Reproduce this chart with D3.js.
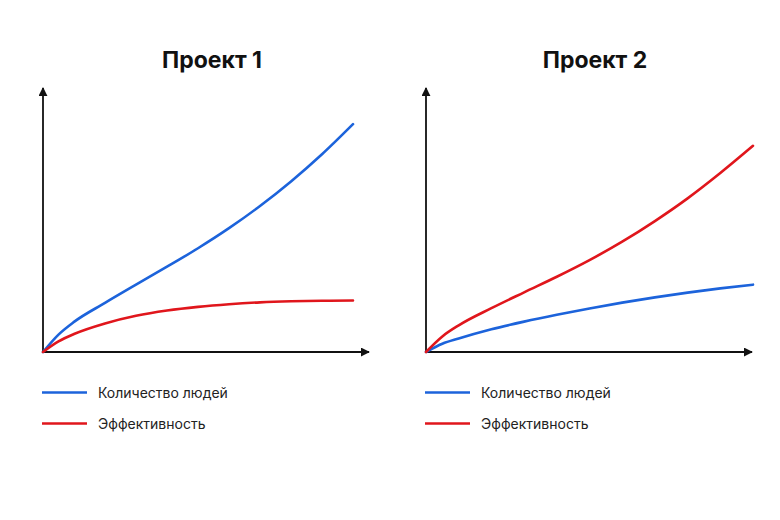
<!DOCTYPE html>
<html>
<head>
<meta charset="utf-8">
<script src="https://cdn.jsdelivr.net/npm/d3@7"></script>
<style>
  body { margin: 0; background: #fff; }
  svg { display: block; font-family: Inter, "Noto Sans", sans-serif; }
</style>
</head>
<body>
<svg id="chart" width="780" height="520"></svg>
<script>
// данные (условные единицы, 0..100 по вертикали)
const xSteps = [0, 0.5, 1, 2, 3, 4, 5, 6, 7, 8, 9, 10];
const seriesNames = ["Количество людей", "Эффективность"];
const seriesColors = ["#1c63db", "#e0161c"];
const titles = ["Проект 1", "Проект 2"];

const p1People = [0, 6.6, 11.4, 18.6, 25.5, 32.3, 39.3, 46.9, 55.3, 64.6, 74.9, 86.3];
const p1Effect = [0, 4.0, 6.8, 10.8, 13.7, 15.7, 17.1, 18.1, 18.8, 19.2, 19.4, 19.5];
const p2People = [0, 3.1, 5.1, 8.6, 11.5, 14.1, 16.5, 18.7, 20.7, 22.5, 24.1, 25.5];
const p2Effect = [0, 5.9, 10.1, 16.6, 22.6, 28.5, 34.8, 41.8, 49.6, 58.2, 67.8, 78.1];

const panels = [
    { title: titles[0], left: 43, series: [p1People, p1Effect], width: 310 },
    { title: titles[1], left: 426, series: [p2People, p2Effect], width: 327 }
];

const svg = d3.select("#chart");

const plotTop = 88, plotBottom = 352;

svg.append("defs").append("marker")
    .attr("id", "arrow")
    .attr("viewBox", "0 0 10 10")
    .attr("refX", 9)
    .attr("refY", 5)
    .attr("markerWidth", 9)
    .attr("markerHeight", 9)
    .attr("markerUnits", "userSpaceOnUse")
    .attr("orient", "auto")
    .append("path")
    .attr("d", "M0,0 L10,5 L0,10 Z")
    .attr("fill", "#111");

panels.forEach(p => {
    const g = svg.append("g");

    var x = d3.scaleLinear().domain([0, 10]).range([p.left, p.left + p.width]);
    var y = d3.scaleLinear().domain([0, 100]).range([plotBottom, plotTop]);

    g.append("text")
        .attr("x", p.left + 169)
        .attr("y", 68)
        .attr("text-anchor", "middle")
        .attr("font-size", 23)
        .attr("font-weight", 700)
        .attr("fill", "#111")
        .text(p.title);

    // оси со стрелками
    g.append("line")
        .attr("x1", p.left).attr("y1", plotBottom)
        .attr("x2", p.left).attr("y2", plotTop)
        .attr("stroke", "#111").attr("stroke-width", 1.8)
        .attr("marker-end", "url(#arrow)");
    g.append("line")
        .attr("x1", p.left).attr("y1", plotBottom)
        .attr("x2", p.left + 326).attr("y2", plotBottom)
        .attr("stroke", "#111").attr("stroke-width", 1.8)
        .attr("marker-end", "url(#arrow)");

    const line = d3.line()
        .x((d, i) => x(xSteps[i]))
        .y(d => y(d))
        .curve(d3.curveMonotoneX);

    p.series.forEach((vals, i) => {
        g.append("path")
            .datum(vals)
            .attr("fill", "none")
            .attr("stroke", seriesColors[i])
            .attr("stroke-width", 2.6)
            .attr("stroke-linecap", "round")
            .attr("d", line);
    });

    // легенда
    seriesNames.forEach((name, i) => {
        const ly = 392.5 + i * 31;
        g.append("line")
            .attr("x1", p.left - 1).attr("x2", p.left + 44)
            .attr("y1", ly).attr("y2", ly)
            .attr("stroke", seriesColors[i])
            .attr("stroke-width", 2.6);
        g.append("text")
            .attr("x", p.left + 55)
            .attr("y", ly + 5)
            .attr("font-size", 14)
            .attr("fill", "#222")
            .text(name);
    });
});
</script>
</body>
</html>
